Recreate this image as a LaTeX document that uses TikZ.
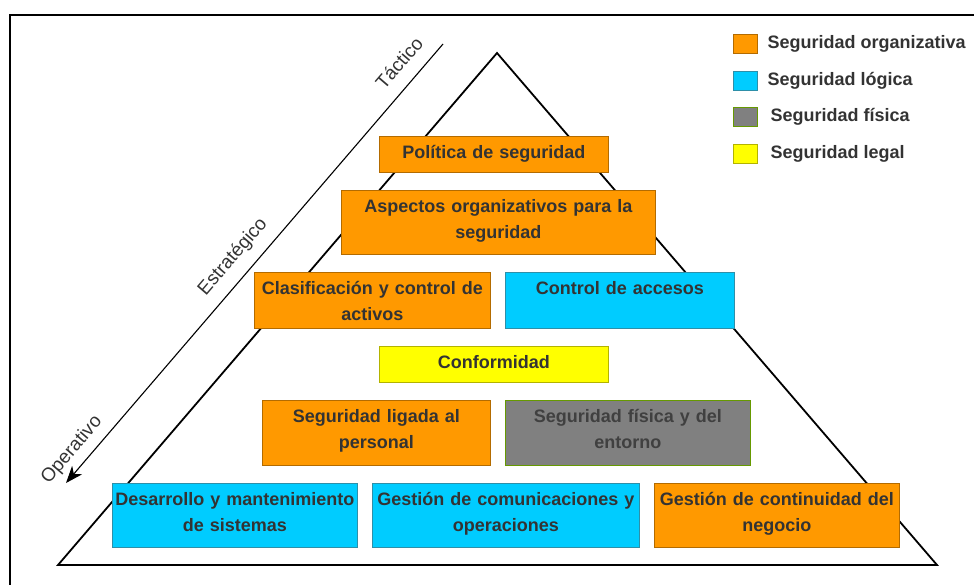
\documentclass[tikz,border=0pt]{standalone}
\usepackage{fontspec}
\setmainfont{Liberation Sans}
\usetikzlibrary{arrows.meta,positioning}
\definecolor{orgfill}{HTML}{FF9900}
\definecolor{orgline}{HTML}{B36B00}
\definecolor{logfill}{HTML}{00CCFF}
\definecolor{logline}{HTML}{2E8FA8}
\definecolor{fisfill}{HTML}{808080}
\definecolor{fisline}{HTML}{669900}
\definecolor{legfill}{HTML}{FFFF00}
\definecolor{legline}{HTML}{B3B300}
\definecolor{txtgray}{HTML}{333333}

\begin{document}
\begin{tikzpicture}[x=1pt,y=-1pt,
    capa/.style 2 args={draw, line width=0.8pt, inner sep=0pt, anchor=north west,
      text width=#1pt, text height=22pt, text depth=#2pt, align=center,
      font=\fontsize{18}{26.5}\selectfont\bfseries, text=txtgray},
    orgbox/.style={fill=orgfill, draw=orgline},
    logbox/.style={fill=logfill, draw=logline},
    fisbox/.style={fill=fisfill, draw=fisline},
    legbox/.style={fill=legfill, draw=legline},
    muestra/.style={draw, line width=0.8pt, inner sep=0pt, minimum width=24pt, minimum height=19pt},
    leyenda/.style={inner sep=0pt, anchor=west, font=\fontsize{18}{22}\selectfont\bfseries, text=txtgray},
    nivel/.style={inner sep=0pt, rotate=49.4, font=\fontsize{19}{22}\selectfont, text=txtgray}]
  \useasboundingbox (0,0) rectangle (974,584);
  \clip (0,0) rectangle (974,584);

  % marco
  \draw[line width=2pt] (10,15) rectangle (995,605);

  % piramide
  \coordinate (cima) at (497,53);
  \coordinate (baseDer) at (937,565);
  \coordinate (baseIzq) at (58,565);
  \draw[line width=1.8pt, line join=miter] (cima) -- (baseDer) -- (baseIzq) -- cycle;

  % eje de niveles
  \coordinate (ejeArriba) at (443,44);
  \coordinate (ejeAbajo) at (66,483);
  \draw[line width=1.1pt, -{Stealth[length=17pt, width=13pt, inset=5pt]}] (ejeArriba) -- (ejeAbajo);
  \node[nivel] (tactico) at (399,63) {Táctico};
  \node[nivel] (estrategico) at (233,257) {Estratégico};
  \node[nivel] (operativo) at (72,450) {Operativo};

  % capas
  \node[capa={229}{14}, orgbox] (politica) at (379,136) {Política de seguridad};
  \node[capa={314}{42}, orgbox] (aspectos) at (341,190) {Aspectos organizativos para la\\seguridad};
  \node[capa={236}{34}, orgbox] (activos) at (254,272) {Clasificación y control de\\activos};
  \node[capa={229}{34}, logbox] (accesos) at (505,272) {Control de accesos};
  \node[capa={229}{14}, legbox] (conformidad) at (379,346) {Conformidad};
  \node[capa={228}{43}, orgbox] (personal) at (262,400) {Seguridad ligada al\\personal};
  \node[capa={245}{43}, fisbox, text=black!75] (entorno) at (505,400) {Seguridad física y del\\entorno};
  \node[capa={245}{42}, logbox] (sistemas) at (112,483) {Desarrollo y mantenimiento\\de sistemas};
  \node[capa={267}{42}, logbox] (operaciones) at (372,483) {Gestión de comunicaciones y\\operaciones};
  \node[capa={245}{42}, orgbox] (negocio) at (654,483) {Gestión de continuidad del\\negocio};

  % leyenda
  \node[muestra, orgbox] (mOrg) at (745,44) {};
  \node[muestra, logbox] (mLog) at (745,80.5) {};
  \node[muestra, fisbox] (mFis) at (745,117) {};
  \node[muestra, legbox] (mLeg) at (745,153.5) {};
  \node[leyenda, right=10pt of mOrg] (tOrg) {Seguridad organizativa};
  \node[leyenda, right=10pt of mLog] (tLog) {Seguridad lógica};
  \node[leyenda, right=13pt of mFis] (tFis) {Seguridad física};
  \node[leyenda, right=13pt of mLeg] (tLeg) {Seguridad legal};
\end{tikzpicture}
\end{document}
